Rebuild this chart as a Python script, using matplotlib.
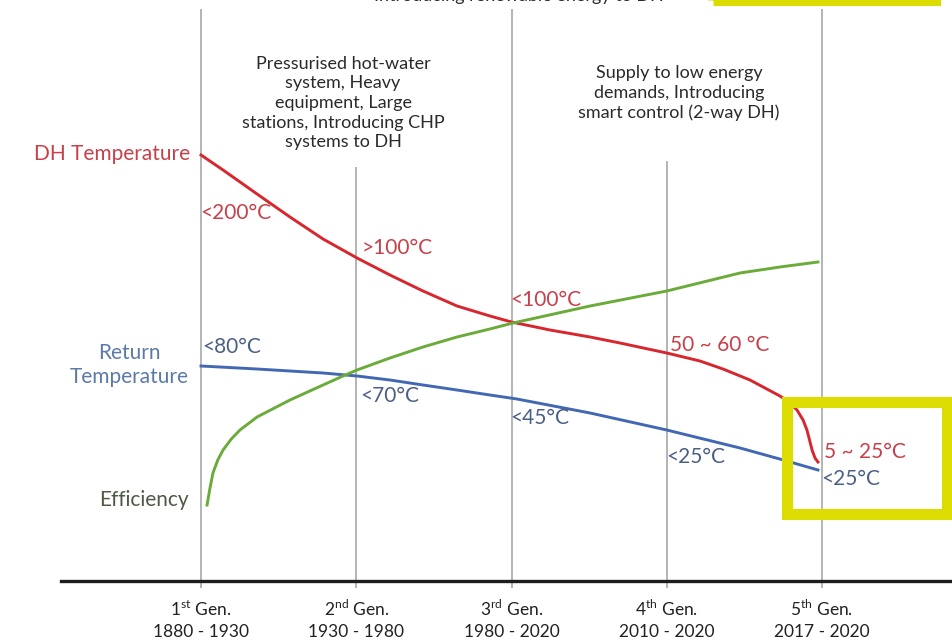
import matplotlib
matplotlib.use('agg')
import matplotlib.pyplot as plt
from matplotlib.patches import Rectangle

plt.rcParams['font.family'] = ['Lato', 'DejaVu Sans']
plt.rcParams['mathtext.fontset'] = 'custom'
plt.rcParams['mathtext.rm'] = 'Lato'

# generations along the x axis
gens = [1, 2, 3, 4, 5]
gen_names = [r'1$^{\rm st}$ Gen.', r'2$^{\rm nd}$ Gen.', r'3$^{\rm rd}$ Gen.',
             r'4$^{\rm th}$ Gen.', r'5$^{\rm th}$ Gen.']
gen_years = ['1880 - 1930', '1930 - 1980', '1980 - 2020', '2010 - 2020', '2017 - 2020']
line_tops = [571, 413, 571, 419, 571]

# curves (x in generation units, y = relative level)
dh_x = [1.0, 1.142, 1.361, 1.573, 1.786, 2.005, 2.217, 2.430, 2.649, 2.861,
        3.0, 3.248, 3.506, 3.699, 4.0, 4.214, 4.362, 4.536, 4.729, 4.794,
        4.839, 4.878, 4.903, 4.923, 4.936, 4.955, 4.974]
dh_y = [426, 411, 387, 364, 342, 323, 306, 290, 275, 265,
        259, 251, 244, 238, 228, 220, 212, 201, 185, 178,
        171, 161, 151, 139, 131, 123, 119]

ret_x = [1.0, 1.361, 1.786, 2.005, 2.217, 2.430, 2.649, 2.861, 3.035,
         3.506, 4.0, 4.472, 4.728, 4.974]
ret_y = [215, 212, 208, 205, 201, 196, 191, 186, 182,
         168, 151, 133, 122, 111]

eff_x = [1.039, 1.058, 1.077, 1.108, 1.142, 1.195, 1.251, 1.361, 1.573, 1.786,
         1.915, 2.005, 2.217, 2.430, 2.649, 2.861, 3.010, 3.506, 4.0, 4.472,
         4.729, 4.974]
eff_y = [76, 93, 108, 121, 131, 142, 151, 164, 181, 196,
         205, 211, 223, 234, 244, 252, 258, 275, 290, 308,
         314, 319]

dh_labels = ['<200°C', '>100°C', '<100°C', '50 ~ 60 °C', '5 ~ 25°C']
dh_label_pos = [(0.995, 368), (2.035, 333), (2.99, 281), (4.02, 236), (5.015, 129)]
ret_labels = ['<80°C', '<70°C', '<45°C', '<25°C', '<25°C']
ret_label_pos = [(1.005, 234), (2.025, 185), (2.995, 163), (3.995, 124), (4.995, 102)]

red = '#d8262e'
blue = '#4268b4'
green = '#6aab3a'
red_txt = '#c8404a'
blue_txt = '#4b5f85'

fig = plt.figure(figsize=(9.53, 6.42), dpi=100)
ax = fig.add_axes([0, 0, 1, 1])
ax.set_xlim(-0.2947, 5.8438)
ax.set_ylim(-61, 581)
ax.axis('off')

# grid lines for each generation
for g, top in zip(gens, line_tops):
    ax.plot([g, g], [-6, top], color='#b4b4b4', lw=1.4, zorder=1)

# baseline
ax.plot([0.098, 5.85], [0, 0], color='#1e1e1e', lw=2.4, zorder=2)

ax.plot(dh_x, dh_y, color=red, lw=2.1, solid_joinstyle='round', zorder=3)
ax.plot(ret_x, ret_y, color=blue, lw=2.1, solid_joinstyle='round', zorder=3)
ax.plot(eff_x, eff_y, color=green, lw=2.1, solid_joinstyle='round', zorder=3)

fs = 15
for t, (x, y) in zip(dh_labels, dh_label_pos):
    ax.text(x, y, t, color=red_txt, fontsize=fs, ha='left', va='center')
for t, (x, y) in zip(ret_labels, ret_label_pos):
    ax.text(x, y, t, color=blue_txt, fontsize=fs, ha='left', va='center')

ax.text(0.93, 427, 'DH Temperature', color=red_txt, fontsize=fs, ha='right', va='center')
ax.text(0.54, 216, 'Return\nTemperature', color='#5b7aa6', fontsize=fs,
        ha='center', va='center', linespacing=1.3)
ax.text(0.92, 81, 'Efficiency', color='#4e5a44', fontsize=fs, ha='right', va='center')

ax.text(1.915, 478, 'Pressurised hot-water\nsystem, Heavy\nequipment, Large\n'
        'stations, Introducing CHP\nsystems to DH', color='#2a2a2a', fontsize=13,
        ha='center', va='center', linespacing=1.28)
ax.text(4.079, 488, 'Supply to low energy\ndemands, Introducing\nsmart control (2-way DH)',
        color='#2a2a2a', fontsize=13, ha='center', va='center', linespacing=1.28)
ax.text(3.048, 585, 'Introducing renewable energy to DH', color='#2a2a2a',
        fontsize=13, ha='center', va='center')

for g, n, yr in zip(gens, gen_names, gen_years):
    ax.text(g, -28, n, color='#222222', fontsize=12.5, ha='center', va='center')
    ax.text(g, -51, yr, color='#222222', fontsize=12.5, ha='center', va='center')

# yellow highlight boxes
yellow = '#dcdc00'
ax.add_patch(Rectangle((4.295, 581), 1.436, 60, fill=False, ec=yellow, lw=8, zorder=5))
ax.add_patch(Rectangle((4.775, 67), 1.03, 112, fill=False, ec=yellow, lw=8,
                       joinstyle='miter', zorder=5))

fig.savefig('out.png', dpi=100)
